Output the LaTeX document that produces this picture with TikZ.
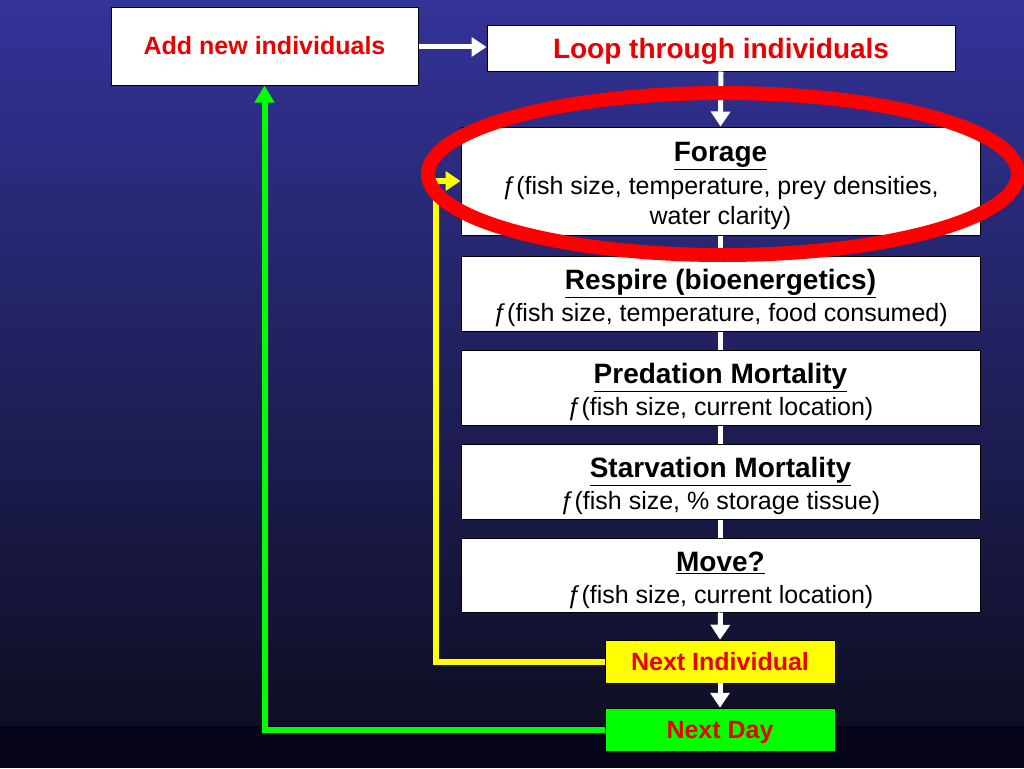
\documentclass[tikz,border=0pt]{standalone}
\usepackage{fontspec}
\setmainfont{Liberation Sans}
\usetikzlibrary{arrows.meta,calc}
\definecolor{bgtop}{RGB}{51,51,153}
\definecolor{bgbot}{RGB}{14,14,36}
\definecolor{bgband}{RGB}{5,4,24}
\definecolor{txtred}{RGB}{235,0,0}
\definecolor{ringred}{RGB}{255,0,0}
\definecolor{ylw}{RGB}{255,255,0}
\definecolor{grn}{RGB}{0,255,0}
\newcommand{\bodyfont}{\fontsize{25}{30}\selectfont}
\newcommand{\titlefont}{\fontsize{28}{33}\selectfont\bfseries}
\newcommand{\ttl}[1]{\rule{0pt}{30pt}{\titlefont\underline{#1}}}
\begin{document}
\begin{tikzpicture}[x=1pt,y=-1pt,
  wbox/.style={draw=black,line width=1pt,fill=white,inner sep=0pt,align=center,minimum width=519pt,font=\bodyfont},
  redlabel/.style={text=txtred,font=\fontsize{25}{30}\selectfont\bfseries,text height=22pt,text depth=5pt},
  wline/.style={draw=white,line width=5pt},
  warrow/.style={wline,-{Triangle[width=19pt,length=15pt]}},
  yarrow/.style={draw=ylw,line width=6pt,-{Triangle[width=19pt,length=15pt]}},
  garrow/.style={draw=grn,line width=6pt,-{Triangle[width=19pt,length=17pt]}}
]
\useasboundingbox (0,0) rectangle (1024,768);
\shade[top color=bgtop,bottom color=bgbot] (0,0) rectangle (1024,726);
\fill[bgband] (0,726) rectangle (1024,768);

\node[wbox,redlabel,minimum width=307pt,minimum height=77pt] (add) at (264.5,46.5) {Add new individuals};
\node[wbox,text=txtred,font=\fontsize{28}{33}\selectfont\bfseries,text height=26pt,text depth=6pt,minimum width=468pt,minimum height=45pt] (loop) at (721,48.5) {Loop through individuals};

\node[wbox,minimum height=108pt] (forage) at (720.5,181) {\ttl{Forage}\\[3pt]ƒ(fish size, temperature, prey densities,\\water clarity)};
\node[wbox,minimum height=75pt] (resp) at (720.5,293.5) {\ttl{Respire (bioenergetics)}\\[2pt]ƒ(fish size, temperature, food consumed)};
\node[wbox,minimum height=75pt] (pred) at (720.5,387.5) {\ttl{Predation Mortality}\\[2pt]ƒ(fish size, current location)};
\node[wbox,minimum height=75pt] (starv) at (720.5,481.5) {\ttl{Starvation Mortality}\\[2pt]ƒ(fish size, \% storage tissue)};
\node[wbox,minimum height=74pt] (move) at (720.5,575) {\ttl{Move?}\\[2pt]ƒ(fish size, current location)};

\node[fill=ylw,draw=black,line width=0.5pt,redlabel,minimum width=230pt,minimum height=43pt,inner sep=0pt] (nexti) at (720,661.5) {Next Individual};
\node[fill=grn,draw=black,line width=0.5pt,redlabel,minimum width=230pt,minimum height=43pt,inner sep=0pt] (nextd) at (720,729.5) {Next Day};

\draw[warrow] (add.east |- 0,47) -- (loop.west |- 0,47);
\draw[warrow] (loop.south) -- (forage.north);
\draw[wline] (forage.south) -- (resp.north);
\draw[wline] (resp.south) -- (pred.north);
\draw[wline] (pred.south) -- (starv.north);
\draw[wline] (starv.south) -- (move.north);
\draw[warrow] (move.south) -- (nexti.north);
\draw[warrow] (nexti.south) -- (nextd.north);

\coordinate (ycorner) at (436,661.5);
\draw[yarrow] (nexti.west) -- (ycorner) |- (forage.west);
\coordinate (gcorner) at (264.5,729.5);
\draw[garrow] (nextd.west) -- (gcorner) -- (add.south);

\draw[ringred,line width=14pt] (723,174) ellipse [x radius=295, y radius=81];
\end{tikzpicture}
\end{document}
